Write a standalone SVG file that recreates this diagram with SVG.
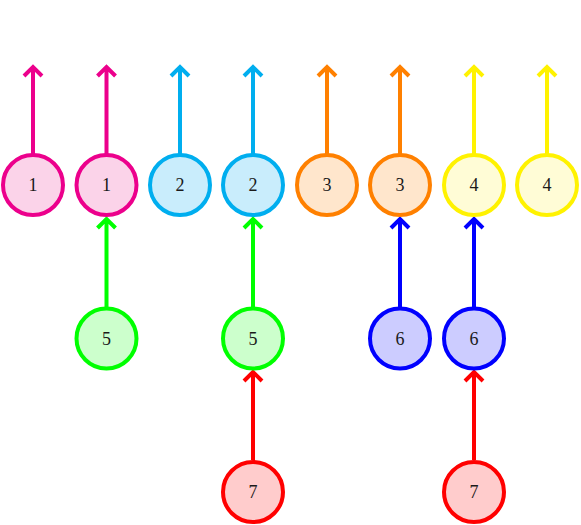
<svg xmlns="http://www.w3.org/2000/svg" width="581" height="525" viewBox="0 0 581 525">
<style>
.n circle{stroke-width:4}
.n text{font-family:"Liberation Serif","DejaVu Serif",serif;font-size:18px;text-anchor:middle;dominant-baseline:central;fill:#1a1a1a;stroke:none}
.e path{fill:none;stroke-width:4;stroke-linecap:butt;stroke-linejoin:miter}
.m circle{stroke:#EC008C;fill:#FBD3E9}path.m{stroke:#EC008C}
.c circle{stroke:#00AEEF;fill:#C9EDFC}path.c{stroke:#00AEEF}
.o circle{stroke:#FF8000;fill:#FFE6CC}path.o{stroke:#FF8000}
.y circle{stroke:#FFF200;fill:#FFFCD6}path.y{stroke:#FFF200}
.g circle{stroke:#00FF00;fill:#CCFFCC}path.g{stroke:#00FF00}
.b circle{stroke:#0000FF;fill:#CCCCFF}path.b{stroke:#0000FF}
.r circle{stroke:#FF0000;fill:#FFCCCC}path.r{stroke:#FF0000}
</style>
<g id="connectors" class="e">
<path class="m" d="M33,154V67M24,76L33,67L42,76"/>
<path class="m" d="M106.5,154V67M97.5,76L106.5,67L115.5,76"/>
<path class="c" d="M180,154V67M171,76L180,67L189,76"/>
<path class="c" d="M253,154V67M244,76L253,67L262,76"/>
<path class="o" d="M327,154V67M318,76L327,67L336,76"/>
<path class="o" d="M400,154V67M391,76L400,67L409,76"/>
<path class="y" d="M474,154V67M465,76L474,67L483,76"/>
<path class="y" d="M547,154V67M538,76L547,67L556,76"/>
<path class="g" d="M106.5,307V219M97.5,228L106.5,219L115.5,228"/>
<path class="g" d="M253,307V219M244,228L253,219L262,228"/>
<path class="b" d="M400,307V219M391,228L400,219L409,228"/>
<path class="b" d="M474,307V219M465,228L474,219L483,228"/>
<path class="r" d="M253,460V372M244,381L253,372L262,381"/>
<path class="r" d="M474,460V372M465,381L474,372L483,381"/>
</g>
<g id="n1a" class="n m"><circle cx="33" cy="185" r="30"/><text x="33" y="185">1</text></g>
<g id="n1b" class="n m"><circle cx="106.5" cy="185" r="30"/><text x="106.5" y="185">1</text></g>
<g id="n2a" class="n c"><circle cx="180" cy="185" r="30"/><text x="180" y="185">2</text></g>
<g id="n2b" class="n c"><circle cx="253" cy="185" r="30"/><text x="253" y="185">2</text></g>
<g id="n3a" class="n o"><circle cx="327" cy="185" r="30"/><text x="327" y="185">3</text></g>
<g id="n3b" class="n o"><circle cx="400" cy="185" r="30"/><text x="400" y="185">3</text></g>
<g id="n4a" class="n y"><circle cx="474" cy="185" r="30"/><text x="474" y="185">4</text></g>
<g id="n4b" class="n y"><circle cx="547" cy="185" r="30"/><text x="547" y="185">4</text></g>
<g id="n5a" class="n g"><circle cx="106.5" cy="338.5" r="30"/><text x="106.5" y="338.5">5</text></g>
<g id="n5b" class="n g"><circle cx="253" cy="338.5" r="30"/><text x="253" y="338.5">5</text></g>
<g id="n6a" class="n b"><circle cx="400" cy="338.5" r="30"/><text x="400" y="338.5">6</text></g>
<g id="n6b" class="n b"><circle cx="474" cy="338.5" r="30"/><text x="474" y="338.5">6</text></g>
<g id="n7a" class="n r"><circle cx="253" cy="492" r="30"/><text x="253" y="492">7</text></g>
<g id="n7b" class="n r"><circle cx="474" cy="492" r="30"/><text x="474" y="492">7</text></g>
</svg>
